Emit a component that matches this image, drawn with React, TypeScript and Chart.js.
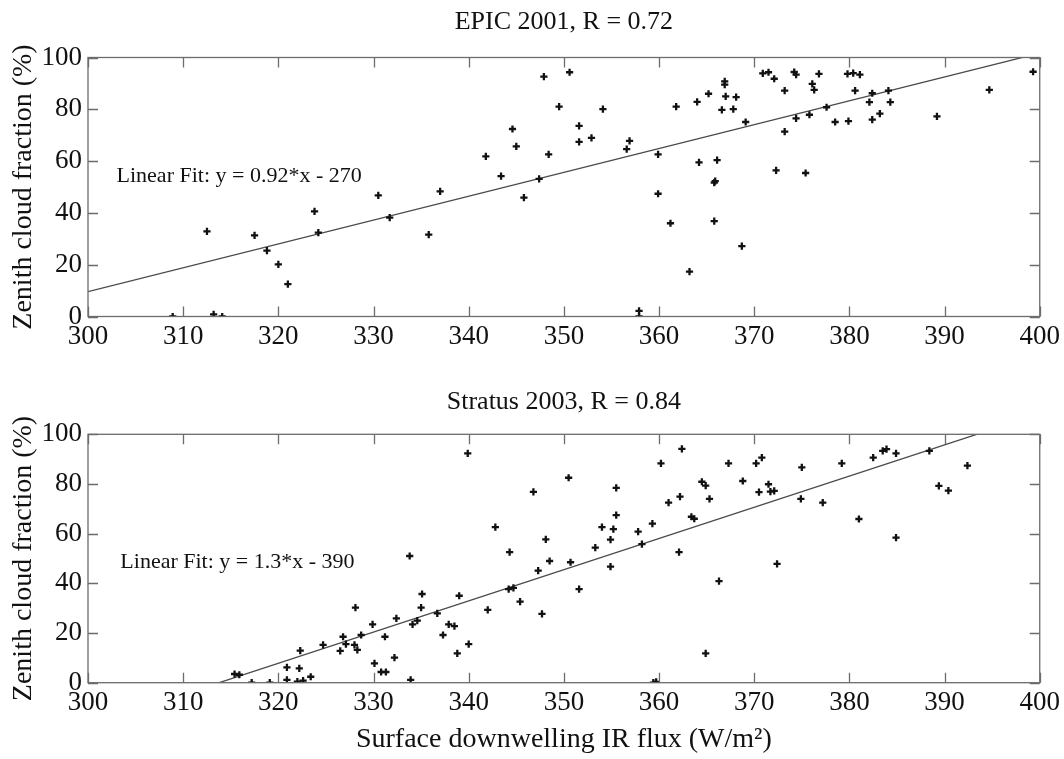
import React, { useEffect, useRef } from "react";
import { Chart, registerables } from "chart.js";

Chart.register(...registerables);

// ---------- data ----------
const xTickValues = [300, 310, 320, 330, 340, 350, 360, 370, 380, 390, 400];
const yTickValues = [0, 20, 40, 60, 80, 100];

const epicTitle = "EPIC 2001, R = 0.72";
const epicNote = "Linear Fit: y = 0.92*x - 270";
const epicX = [
  330.5, 323.8, 331.7, 324.2, 312.5, 317.5, 318.8, 320.0, 321.0, 308.9, 313.2, 314.1,
  347.9, 350.6, 349.5, 354.1, 361.8, 364.0, 365.2, 344.6, 351.6, 345.0, 351.6, 352.9,
  356.9, 356.6, 341.8, 348.4, 359.9, 364.2, 343.4, 347.4, 337.0, 345.8, 359.9, 361.2,
  335.8, 363.2, 357.9, 357.9, 370.9, 371.5, 372.1, 374.2, 374.4, 376.8, 379.8, 380.4,
  381.1, 366.9, 366.9, 367.0, 368.1, 366.6, 367.8, 369.1, 373.2, 376.1, 376.3, 380.6,
  382.4, 384.1, 382.1, 384.3, 377.6, 375.8, 374.4, 373.2, 378.5, 379.9, 382.4, 383.2,
  389.2, 394.7, 399.3, 366.1, 365.8, 365.9, 365.8, 368.7, 372.3, 375.4,
];
const epicY = [
  46.8, 40.6, 38.2, 32.4, 32.9, 31.3, 25.4, 20.1, 12.5, 0, 0.8, 0,
  92.6, 94.3, 81.0, 80.1, 81.0, 82.9, 86.0, 72.4, 73.6, 65.7, 67.4, 69.0,
  67.8, 64.6, 61.8, 62.6, 62.6, 59.5, 54.2, 53.1, 48.3, 45.9, 47.4, 36.0,
  31.6, 17.3, 2.2, 0, 93.9, 94.3, 91.8, 94.4, 93.4, 93.7, 93.7, 94.0,
  93.4, 90.8, 89.5, 85.0, 84.7, 79.8, 80.1, 75.1, 87.2, 89.8, 87.5, 87.2,
  86.2, 87.2, 82.8, 82.8, 80.8, 77.9, 76.5, 71.4, 75.1, 75.4, 76.0, 78.3,
  77.3, 87.5, 94.5, 60.4, 51.7, 52.3, 36.8, 27.2, 56.4, 55.4,
];
const epicFitSlope = 0.921;
const epicFitIntercept = -266.7;

const stratusTitle = "Stratus 2003, R = 0.84";
const stratusNote = "Linear Fit: y = 1.3*x - 390";
const stratusX = [
  333.8, 328.1, 332.4, 329.9, 328.7, 326.8, 331.2, 324.7, 327.1, 328.0, 326.5, 328.3,
  322.3, 332.2, 330.1, 320.9, 322.2, 315.4, 315.9, 330.8, 331.3, 323.4, 322.6, 320.9,
  322.0, 317.2, 319.1, 333.9, 339.9, 350.5, 346.8, 355.5, 360.2, 362.4, 361.0, 362.2,
  364.5, 364.9, 365.3, 363.4, 363.7, 355.5, 342.8, 354.0, 355.2, 357.8, 359.3, 348.1,
  354.9, 353.3, 358.2, 362.1, 344.3, 348.5, 350.7, 354.9, 347.3, 351.6, 344.2, 344.7,
  345.4, 347.7, 342.0, 335.1, 335.0, 339.0, 336.7, 334.1, 334.6, 337.9, 338.5, 337.3,
  340.0, 338.8, 364.9, 359.4, 359.7, 367.3, 370.2, 370.8, 368.8, 371.5, 370.5, 371.7,
  372.1, 375.0, 374.9, 377.2, 379.2, 382.5, 383.5, 383.9, 384.9, 388.4, 389.4, 390.4,
  392.4, 381.0, 384.9, 372.4, 366.3,
];
const stratusY = [
  51.0, 30.2, 25.9, 23.5, 19.2, 18.5, 18.5, 15.2, 15.5, 15.2, 12.8, 13.2,
  12.9, 10.1, 7.8, 6.2, 5.8, 3.5, 3.2, 4.3, 4.3, 2.4, 0.8, 1.1,
  0.4, 0, 0, 1.1, 92.3, 82.5, 76.8, 78.4, 88.3, 94.1, 72.5, 74.9,
  80.9, 79.3, 74.0, 66.8, 66.0, 67.5, 62.6, 62.6, 61.8, 60.8, 64.0, 57.7,
  57.6, 54.4, 55.8, 52.6, 52.6, 49.0, 48.5, 46.7, 45.1, 37.7, 37.7, 38.2,
  32.6, 27.7, 29.3, 35.7, 30.2, 35.0, 27.9, 23.5, 25.0, 23.5, 22.8, 19.2,
  15.5, 11.8, 11.8, 0, 0.3, 88.3, 88.3, 90.6, 81.2, 79.9, 76.7, 76.9,
  77.2, 86.7, 74.0, 72.5, 88.3, 90.6, 93.3, 94.0, 92.3, 93.3, 79.2, 77.3,
  87.4, 65.9, 58.4, 47.8, 40.9,
];
const stratusFitSlope = 1.256;
const stratusFitIntercept = -394.1;

const yAxisTitle = "Zenith cloud fraction (%)";
const xAxisTitle = "Surface downwelling IR flux (W/m\u00B2)";

// ---------- styling ----------
const FONT = "'Liberation Serif', 'Times New Roman', serif";
const AXIS_COLOR = "#6c6c6c";
const INK = "#111111";

const framePlugin = {
  id: "frame",
  afterDatasetsDraw(chart: any, _args: any, opts: any) {
    const { ctx, chartArea } = chart;
    const { left, right, top, bottom } = chartArea;
    const xs = chart.scales.x;
    const ys = chart.scales.y;
    ctx.save();
    ctx.strokeStyle = AXIS_COLOR;
    ctx.lineWidth = 1.3;
    ctx.strokeRect(left, top, right - left, bottom - top);
    const L = 10;
    ctx.beginPath();
    xs.ticks.forEach((t: any) => {
      const px = Math.round(xs.getPixelForValue(t.value)) + 0.5;
      ctx.moveTo(px, bottom);
      ctx.lineTo(px, bottom - L);
      ctx.moveTo(px, top);
      ctx.lineTo(px, top + L);
    });
    ys.ticks.forEach((t: any) => {
      const py = Math.round(ys.getPixelForValue(t.value)) + 0.5;
      ctx.moveTo(left, py);
      ctx.lineTo(left + L, py);
      ctx.moveTo(right, py);
      ctx.lineTo(right - L, py);
    });
    ctx.stroke();
    if (opts && opts.text) {
      ctx.fillStyle = INK;
      ctx.font = `22px ${FONT}`;
      ctx.textBaseline = "alphabetic";
      ctx.textAlign = "left";
      ctx.fillText(opts.text, xs.getPixelForValue(opts.x), ys.getPixelForValue(opts.y));
    }
    ctx.restore();
  },
};

type PanelProps = {
  top: number;
  height: number;
  plotTop: number;
  plotBottom: number;
  title: string;
  xs: number[];
  ys: number[];
  slope: number;
  intercept: number;
  note: string;
  noteX: number;
  noteY: number;
  showXTitle: boolean;
};

function Panel(p: PanelProps) {
  const ref = useRef<HTMLCanvasElement>(null);
  useEffect(() => {
    if (!ref.current) return;
    const pts = p.xs.map((x, i) => ({ x, y: p.ys[i] }));
    const xMin = xTickValues[0];
    const xMax = xTickValues[xTickValues.length - 1];
    const fitPts = [xMin, xMax].map((x) => ({ x, y: p.slope * x + p.intercept }));
    const titleFont = 26;
    const titleLH = 1.2;
    const titlePadTop = 7;
    const titlePadBottom = p.plotTop - titlePadTop - titleFont * titleLH;
    const xScaleHeight = p.height - p.plotBottom;

    const chart = new Chart(ref.current, {
      type: "scatter",
      data: {
        datasets: [
          {
            type: "line",
            data: fitPts,
            borderColor: "#4a4a4a",
            borderWidth: 1.3,
            pointRadius: 0,
            fill: false,
            clip: 0,
            order: 2,
          } as any,
          {
            data: pts,
            pointStyle: "cross",
            pointRadius: 3.6,
            pointBorderWidth: 2.3,
            borderColor: INK,
            backgroundColor: INK,
            order: 1,
          } as any,
        ],
      },
      options: {
        animation: false,
        responsive: false,
        devicePixelRatio: 1,
        layout: { padding: { left: 0, right: 24, top: 0, bottom: 0 } },
        plugins: {
          legend: { display: false },
          tooltip: { enabled: false },
          title: {
            display: true,
            text: p.title,
            fullSize: false,
            color: INK,
            font: { family: FONT, size: titleFont, weight: "normal", lineHeight: titleLH },
            padding: { top: titlePadTop, bottom: titlePadBottom },
          },
          frame: { text: p.note, x: p.noteX, y: p.noteY },
        } as any,
        scales: {
          x: {
            type: "linear",
            min: xMin,
            max: xMax,
            afterBuildTicks: (scale: any) => {
              scale.ticks = xTickValues.map((v) => ({ value: v }));
            },
            afterFit: (scale: any) => {
              scale.height = xScaleHeight;
            },
            grid: { display: false, drawTicks: false },
            border: { display: false },
            ticks: {
              color: INK,
              padding: 4,
              maxRotation: 0,
              autoSkip: false,
              font: { family: FONT, size: 27 },
            },
            title: {
              display: p.showXTitle,
              text: xAxisTitle,
              color: INK,
              font: { family: FONT, size: 28, lineHeight: 1.2 },
              padding: { top: 0, bottom: 3 },
            },
          },
          y: {
            type: "linear",
            min: yTickValues[0],
            max: yTickValues[yTickValues.length - 1],
            afterBuildTicks: (scale: any) => {
              scale.ticks = yTickValues.map((v) => ({ value: v }));
            },
            afterFit: (scale: any) => {
              scale.width = 88;
            },
            grid: { display: false, drawTicks: false },
            border: { display: false },
            ticks: {
              color: INK,
              padding: 6,
              autoSkip: false,
              font: { family: FONT, size: 27 },
            },
            title: {
              display: true,
              text: yAxisTitle,
              color: INK,
              font: { family: FONT, size: 28, lineHeight: 1.2 },
              padding: { top: 7, bottom: 0 },
            },
          },
        },
      } as any,
      plugins: [framePlugin as any],
    });
    return () => chart.destroy();
  }, []);
  return (
    <div style={{ position: "absolute", left: 0, top: p.top, width: 1064, height: p.height }}>
      <canvas ref={ref} width={1064} height={p.height} style={{ display: "block" }} />
    </div>
  );
}

export default function App() {
  return (
    <div style={{ position: "absolute", left: 0, top: 0, width: 1064, height: 759, background: "#fff" }}>
      <Panel
        top={0}
        height={380}
        plotTop={57.5}
        plotBottom={316.5}
        title={epicTitle}
        xs={epicX}
        ys={epicY}
        slope={epicFitSlope}
        intercept={epicFitIntercept}
        note={epicNote}
        noteX={303}
        noteY={52}
        showXTitle={false}
      />
      <Panel
        top={380}
        height={379}
        plotTop={54.3}
        plotBottom={302.7}
        title={stratusTitle}
        xs={stratusX}
        ys={stratusY}
        slope={stratusFitSlope}
        intercept={stratusFitIntercept}
        note={stratusNote}
        noteX={303.4}
        noteY={46}
        showXTitle={true}
      />
    </div>
  );
}
